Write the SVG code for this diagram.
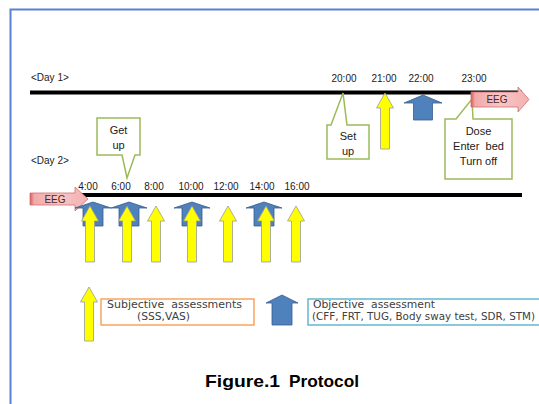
<svg xmlns="http://www.w3.org/2000/svg" width="539" height="404" viewBox="0 0 539 404">
<style>
.t{font-family:"Liberation Sans",Arial,sans-serif;font-size:10px;fill:#1a1a1a}
.c{font-family:"Liberation Sans",Arial,sans-serif;font-size:11px;fill:#1a1a1a;text-anchor:middle}
.lg{font-family:"DejaVu Sans",Verdana,sans-serif;font-size:10px;fill:#404040}
.mid{text-anchor:middle}
.axis{stroke:#000;stroke-width:4}
.call{fill:#fff;stroke:#9bbb59;stroke-width:1.5}
.ya{fill:#ffff00;stroke:#9a9a9a;stroke-width:0.8}
.ba{fill:#4f81bd;stroke:#385d8a;stroke-width:0.8}
.eeg{fill:url(#pg);stroke:#d07070;stroke-width:0.8}
.et{font-family:"Liberation Sans",Arial,sans-serif;font-size:10px;fill:#4d2626;text-anchor:middle}
</style>
<defs>
<linearGradient id="pg" x1="0" y1="0" x2="1" y2="0">
<stop offset="0" stop-color="#d85a5a"/>
<stop offset="0.07" stop-color="#f2a9a9"/>
<stop offset="0.5" stop-color="#f7c6c6"/>
<stop offset="1" stop-color="#f3b0b0"/>
</linearGradient>
<path id="yarrow" d="M0,0 L8.5,15 L4.5,15 L4.5,56 L-4.5,56 L-4.5,15 L-8.5,15 Z"/>
<path id="barrow" d="M0,0 L18,6 L10,6 L10,24 L-10,24 L-10,6 L-18,6 Z"/>
</defs>

<g id="frame"><path d="M10.5,404 L10.5,9.5 L539,9.5" fill="none" stroke="#5b82d0" stroke-width="2"/></g>

<g id="day1">
<text class="t" x="31" y="81" font-size="11">&lt;Day 1&gt;</text>
<line class="axis" x1="30" y1="92.5" x2="522" y2="92.5"/>
<text class="t mid" x="344" y="82">20:00</text>
<text class="t mid" x="384" y="82">21:00</text>
<text class="t mid" x="421" y="82">22:00</text>
<text class="t mid" x="474" y="82">23:00</text>
</g>

<g id="day2">
<text class="t" x="31" y="164" font-size="11">&lt;Day 2&gt;</text>
<line class="axis" x1="30" y1="195" x2="522" y2="195"/>
<text class="t mid" x="88" y="190">4:00</text>
<text class="t mid" x="121" y="190">6:00</text>
<text class="t mid" x="154" y="190">8:00</text>
<text class="t mid" x="191" y="190">10:00</text>
<text class="t mid" x="226" y="190">12:00</text>
<text class="t mid" x="262" y="190">14:00</text>
<text class="t mid" x="297" y="190">16:00</text>
</g>

<g id="setup">
<path class="call" d="M327,125 L331,125 L343,93 L347,125 L369,125 L369,159 L327,159 Z"/>
<text class="c" x="348" y="140">Set</text>
<text class="c" x="348" y="155">up</text>
</g>

<g id="dose">
<path class="call" d="M445,119 L456,119 L472,99 L473,119 L512,119 L512,179 L445,179 Z"/>
<text class="c" x="478.5" y="135">Dose</text>
<text class="c" x="478.5" y="150" style="white-space:pre">Enter  bed</text>
<text class="c" x="478.5" y="165">Turn off</text>
</g>

<g id="getup">
<path class="call" d="M97,118 L140,118 L140,155 L135,155 L127,178 L122,155 L97,155 Z"/>
<text class="c" x="118.5" y="134">Get</text>
<text class="c" x="118.5" y="149">up</text>
</g>

<g id="eeg1">
<path class="eeg" d="M471,92 L518,92 L518,87 L529,99.5 L518,112 L518,107 L471,107 Z"/>
<text class="et" x="497" y="103">EEG</text>
</g>
<g id="eeg2">
<path class="eeg" d="M30,193 L75,193 L75,187 L88,199 L75,211 L75,205 L30,205 Z"/>
<text class="et" x="55" y="203">EEG</text>
</g>

<g id="connectors">
<use href="#yarrow" class="ya" x="385" y="93"/>
<path class="ba" d="M423,95 L442,103 L432.5,103 L432.5,120 L413.5,120 L413.5,103 L404,103 Z"/>
<use href="#barrow" class="ba" x="93" y="202"/>
<use href="#barrow" class="ba" x="129" y="202"/>
<use href="#barrow" class="ba" x="192" y="202"/>
<use href="#barrow" class="ba" x="264" y="202"/>
<use href="#yarrow" class="ya" x="90" y="206"/>
<use href="#yarrow" class="ya" x="127" y="206"/>
<use href="#yarrow" class="ya" x="156" y="206"/>
<use href="#yarrow" class="ya" x="192" y="206"/>
<use href="#yarrow" class="ya" x="228" y="206"/>
<use href="#yarrow" class="ya" x="266" y="206"/>
<use href="#yarrow" class="ya" x="296" y="206"/>
</g>

<g id="legend-subjective">
<path class="ya" d="M89,287 L97.5,302 L93.5,302 L93.5,341 L84.5,341 L84.5,302 L80.5,302 Z"/>
<rect x="101" y="299" width="153" height="26" fill="#fff" stroke="#f79646" stroke-width="1.3"/>
<text class="lg" x="107" y="308" textLength="135" lengthAdjust="spacingAndGlyphs" style="white-space:pre">Subjective  assessments</text>
<text class="lg" x="137" y="319.5" textLength="53" lengthAdjust="spacingAndGlyphs">(SSS,VAS)</text>
</g>

<g id="legend-objective">
<path class="ba" d="M282,295 L298,303 L292,303 L292,325 L272,325 L272,303 L266,303 Z"/>
<rect x="308" y="299" width="232" height="26" fill="#fff" stroke="#4bacc6" stroke-width="1.3"/>
<text class="lg" x="313" y="308" textLength="122" lengthAdjust="spacingAndGlyphs" style="white-space:pre">Objective  assessment</text>
<text class="lg" x="312" y="319.5" textLength="223" lengthAdjust="spacingAndGlyphs">(CFF, FRT, TUG, Body sway test, SDR, STM)</text>
</g>

<g id="title">
<text x="205" y="387" font-family="'Liberation Sans',Arial,sans-serif" font-weight="bold" font-size="17" fill="#000" textLength="75" lengthAdjust="spacingAndGlyphs">Figure.1</text>
<text x="289" y="387" font-family="'Liberation Sans',Arial,sans-serif" font-weight="bold" font-size="17" fill="#000" textLength="70" lengthAdjust="spacingAndGlyphs">Protocol</text>
</g>
</svg>
